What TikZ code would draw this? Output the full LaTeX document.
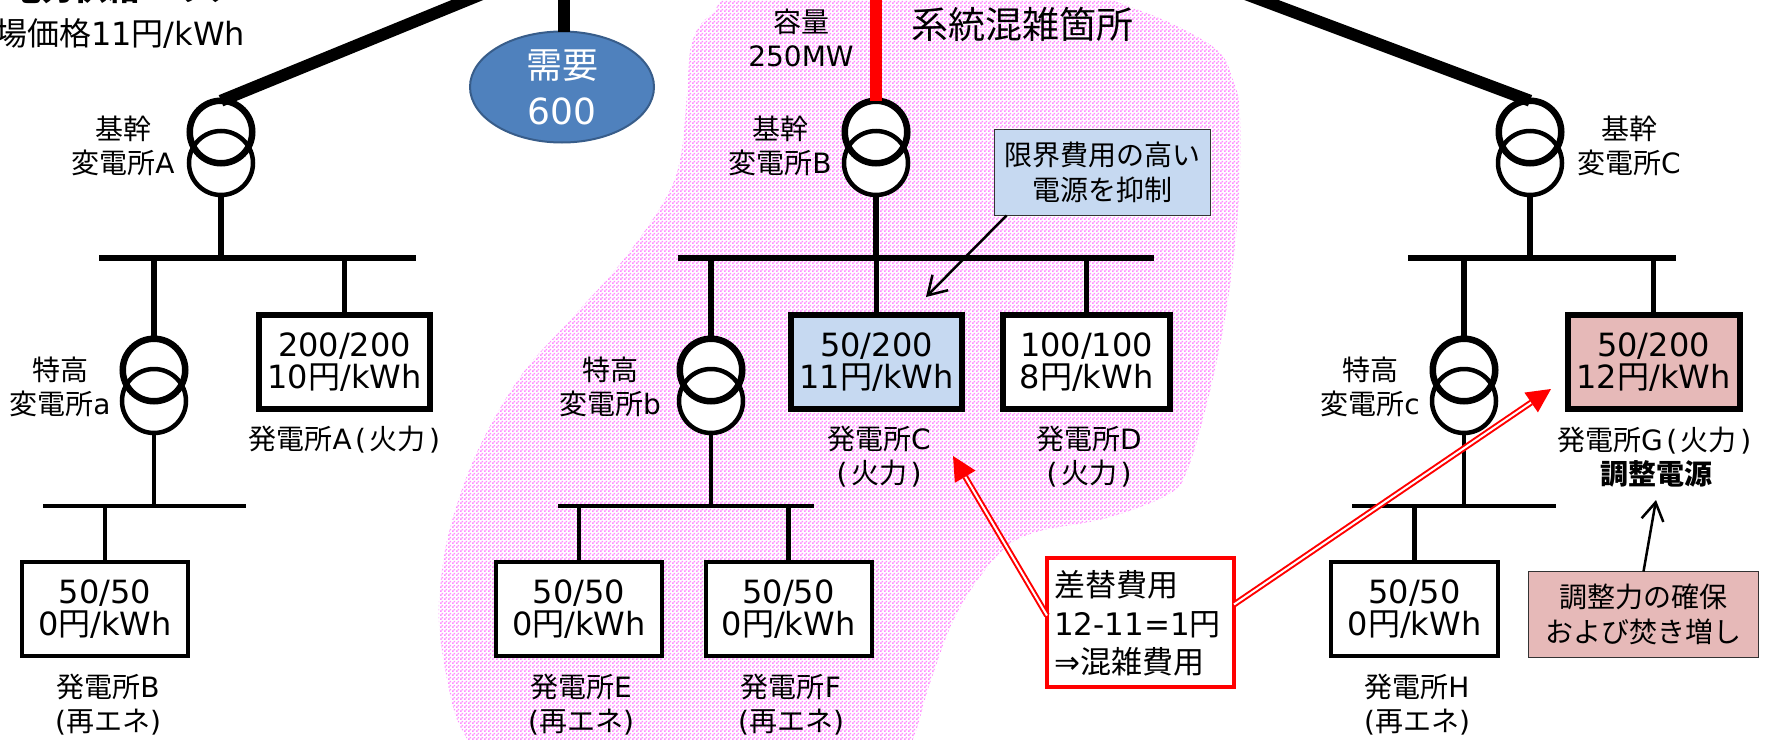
\documentclass[tikz,border=0pt]{standalone}
\usepackage{fontspec}
\setmainfont{DejaVu Sans}
\newfontfamily\jpf{Noto Sans CJK JP}
\newcommand\J[1]{{\jpf #1}}
\newcommand\KA{\kern3.5pt(\kern3.5pt\J{火力}\kern3.5pt)\kern3.5pt}
\usetikzlibrary{shapes.geometric,arrows.meta,patterns,calc}
\pgfdeclarepatternformonly{pinkdots}{\pgfpointorigin}{\pgfqpoint{4pt}{4pt}}{\pgfqpoint{4pt}{4pt}}{
  \pgfpathrectangle{\pgfpoint{0pt}{0pt}}{\pgfpoint{2pt}{2pt}}
  \pgfpathrectangle{\pgfpoint{2pt}{2pt}}{\pgfpoint{2pt}{2pt}}
  \pgfusepath{fill}}
\definecolor{pinkdot}{RGB}{255,140,255}
\definecolor{bluefill}{RGB}{198,217,241}
\definecolor{rosefill}{RGB}{230,185,184}
\definecolor{demandfill}{RGB}{79,129,189}
\definecolor{demanddraw}{RGB}{56,93,138}
\tikzset{
  lbl/.style={inner sep=0pt,outer sep=0pt,align=center,font=\fontsize{28}{34}\selectfont},
  trup/.style={circle,draw=black,line width=6.5pt,minimum size=62.5pt,inner sep=0pt,outer sep=0pt},
  trlow/.style={circle,draw=black,line width=4.5pt,minimum size=64pt,inner sep=0pt,outer sep=0pt},
  bushi/.style={fill=black,inner sep=0pt,outer sep=0pt,minimum height=6pt},
  buslo/.style={fill=black,inner sep=0pt,outer sep=0pt,minimum height=4.5pt},
  conn/.style={line width=5.5pt},
  connlo/.style={line width=4.5pt},
  plantbig/.style={draw=black,fill=white,line width=6pt,inner sep=0pt,outer sep=0pt,minimum height=94pt,align=center,font=\fontsize{32}{32}\selectfont},
  plantsm/.style={draw=black,fill=white,line width=4pt,inner sep=0pt,outer sep=0pt,minimum height=94pt,minimum width=166pt,align=center,font=\fontsize{32}{32}\selectfont},
  notebox/.style={draw=black!80,line width=1.5pt,inner sep=0pt,outer sep=0pt,align=center,font=\fontsize{28}{35}\selectfont},
  thickline/.style={line width=12pt},
  pointer/.style={line width=2.5pt,-{Straight Barb[length=18pt,width=22pt]}},
  redline/.style={draw=red,line width=2pt,double=white,double distance=2pt},
  redtip/.style={draw=none,fill=red},
}
\newcommand\trafo[3]{%
  \fill[white] (#2,#3) circle (33pt) (#2,#3+31) circle (33pt);
  \node[trup] (#11) at (#2,#3) {};
  \node[trlow] (#12) at (#2,#3+31) {};
}
\begin{document}
\begin{tikzpicture}[x=1pt,y=-1pt]
\useasboundingbox (0,0) rectangle (1767,739);
\clip (0,0) rectangle (1767,739);
\fill[white] (0,0) rectangle (1767,739);
% congested area
\path[pattern=pinkdots,pattern color=pinkdot] plot[smooth cycle,tension=0.6] coordinates {
 (760,-8) (712,14) (692,42) (687,94) (680,160) (663,203) (620,264) (570,320) (520,377) (477,452) (450,528) (440,589) (440,636) (453,707) (467,739) (490,775)
 (890,775) (913,739) (930,683) (957,613) (997,556) (1033,533) (1107,518) (1167,495) (1187,471) (1210,391) (1227,306) (1238,212) (1240,118) (1233,80) (1212,46) (1133,8) (1040,-12)};
% top texts
\node[anchor=base west,inner sep=0pt,font=\fontsize{33}{33}\selectfont] (areatitle) at (8,0) {\J{\bfseries 電力供給エリア}};
\node[lbl,anchor=east,font=\fontsize{32}{34}\selectfont] (price) at (245,33) {\J{市場価格}11\J{円}/kWh};
\node[lbl] (cap) at (801,38) {\J{容量}\\250MW};
\node[lbl,font=\fontsize{37}{37}\selectfont] (congest) at (1022,24) {\J{系統混雑箇所}};
% coordinates of the top ends
\coordinate (topA) at (487,-8);
\coordinate (topB) at (876,-5);
\coordinate (topC) at (1232,-11);
% demand
\node[ellipse,draw=demanddraw,fill=demandfill,line width=2pt,inner sep=0pt,outer sep=0pt,minimum width=184pt,minimum height=111pt,text=white,align=center,font=\fontsize{36}{46}\selectfont] (demand) at (562,87) {\J{需要}\\600};
\coordinate (topD) at (564,-5);
\draw[line width=12pt] (demand.north) ++(2,0) -- (topD);
% transformers
\trafo{tA}{221}{132}
\trafo{tB}{876}{132}
\trafo{tC}{1530}{132}
\trafo{ta}{154}{370}
\trafo{tb}{711}{370}
\trafo{tc}{1464}{370}
\draw[thickline] (tA1.north) -- (topA);
\draw[thickline,red] (tB1.north) -- (topB);
\draw[thickline] (tC1.north) -- (topC);
% buses
\node[bushi,minimum width=317pt] (busA) at (257.5,258) {};
\node[bushi,minimum width=476pt] (busB) at (916,258) {};
\node[bushi,minimum width=268pt] (busC) at (1542,258) {};
\node[buslo,minimum width=203pt] (busa) at (144.5,506) {};
\node[buslo,minimum width=256pt] (busb) at (686,506) {};
\node[buslo,minimum width=204pt] (busc) at (1454,506) {};
% plants
\node[plantbig,minimum width=171pt] (pA) at (344.5,362) {200/200\\10\J{円}/kWh};
\node[plantbig,minimum width=171pt,fill=bluefill] (pC) at (876.5,362) {50/200\\11\J{円}/kWh};
\node[plantbig,minimum width=167pt] (pD) at (1086.5,362) {100/100\\8\J{円}/kWh};
\node[plantbig,minimum width=172pt,fill=rosefill] (pG) at (1653.5,362) {50/200\\12\J{円}/kWh};
\node[plantsm] (pB) at (105,609) {50/50\\0\J{円}/kWh};
\node[plantsm] (pE) at (579,609) {50/50\\0\J{円}/kWh};
\node[plantsm] (pF) at (788.5,609) {50/50\\0\J{円}/kWh};
\node[plantsm,minimum width=167pt] (pH) at (1414.5,609) {50/50\\0\J{円}/kWh};
% connectors
\draw[conn] (tA2.south) -- (tA2.south |- busA.north);
\draw[conn] (tB2.south) -- (tB2.south |- busB.north);
\draw[conn] (tC2.south) -- (tC2.south |- busC.north);
\draw[conn] (ta1.north) -- (ta1.north |- busA.south);
\draw[conn] (tb1.north) -- (tb1.north |- busB.south);
\draw[conn] (tc1.north) -- (tc1.north |- busC.south);
\draw[conn] (pA.north) -- (pA.north |- busA.south);
\draw[conn] (pC.north) -- (pC.north |- busB.south);
\draw[conn] (pD.north) -- (pD.north |- busB.south);
\draw[conn] (pG.north) -- (pG.north |- busC.south);
\draw[connlo] (ta2.south) -- (ta2.south |- busa.north);
\draw[connlo] (tb2.south) -- (tb2.south |- busb.north);
\draw[connlo] (tc2.south) -- (tc2.south |- busc.north);
\draw[connlo] (pB.north) -- (pB.north |- busa.south);
\draw[connlo] (pE.north) -- (pE.north |- busb.south);
\draw[connlo] (pF.north) -- (pF.north |- busb.south);
\draw[connlo] (pH.north) -- (pH.north |- busc.south);
% labels
\node[lbl] (lA) at (123,146) {\J{基幹}\\\J{変電所}A};
\node[lbl] (lB) at (780,146) {\J{基幹}\\\J{変電所}B};
\node[lbl] (lC) at (1629,146) {\J{基幹}\\\J{変電所}C};
\node[lbl] (la) at (60,387) {\J{特高}\\\J{変電所}a};
\node[lbl] (lb) at (610,387) {\J{特高}\\\J{変電所}b};
\node[lbl] (lc) at (1370,387) {\J{特高}\\\J{変電所}c};
\node[lbl] (gA) at (346,440) {\J{発電所}A\KA};
\node[lbl] (gC) at (879,457) {\J{発電所}C\\\KA};
\node[lbl] (gD) at (1089,457) {\J{発電所}D\\\KA};
\node[lbl] (gG) at (1656,457) {\J{発電所}G\KA\\\J{\bfseries 調整電源}};
\node[lbl] (gB) at (108,705) {\J{発電所}B\\(\J{再エネ})};
\node[lbl] (gE) at (581,705) {\J{発電所}E\\(\J{再エネ})};
\node[lbl] (gF) at (791,705) {\J{発電所}F\\(\J{再エネ})};
\node[lbl] (gH) at (1417,705) {\J{発電所}H\\(\J{再エネ})};
% notes
\node[notebox,fill=bluefill,minimum width=216pt,minimum height=86pt] (noteB) at (1102.5,172.5) {\J{限界費用の高い}\\\J{電源を抑制}};
\node[notebox,fill=rosefill,minimum width=230pt,minimum height=86pt] (noteG) at (1643.5,614.5) {\J{調整力の確保}\\\J{および焚き増し}};
\coordinate (tipC) at (926,297);
\coordinate (tipG) at (1656,500);
\draw[pointer] (noteB.south west) ++(12,0) -- (tipC);
\draw[pointer] (noteG.north) -- (tipG);
% redispatch cost
\node[draw=red,fill=white,line width=4pt,inner sep=0pt,outer sep=0pt,minimum width=187pt,minimum height=129pt] (cost) at (1140.5,622.5) {};
\node[anchor=west,inner sep=0pt,align=left,font=\fontsize{31}{38.5}\selectfont] (costtext) at (1054,623.5) {\J{差替費用}\\12-11=1\J{円}\\⇒\J{混雑費用}};
\coordinate (arrC) at (953,456);
\coordinate (arrG) at (1551,389);
\coordinate (costL) at ($(cost.west)+(0,-7)$);
\coordinate (costR) at ($(cost.east)+(0,-18)$);
\coordinate (midC) at ($(arrC)!24pt!(costL)$);
\coordinate (midG) at ($(arrG)!24pt!(costR)$);
\draw[redline] (costL) -- (midC);
\draw[redline] (costR) -- (midG);
\path[redtip] (arrC) -- ($(midC)!12pt!90:(arrC)$) -- ($(midC)!12pt!-90:(arrC)$) -- cycle;
\path[redtip] (arrG) -- ($(midG)!12pt!90:(arrG)$) -- ($(midG)!12pt!-90:(arrG)$) -- cycle;
\end{tikzpicture}
\end{document}
